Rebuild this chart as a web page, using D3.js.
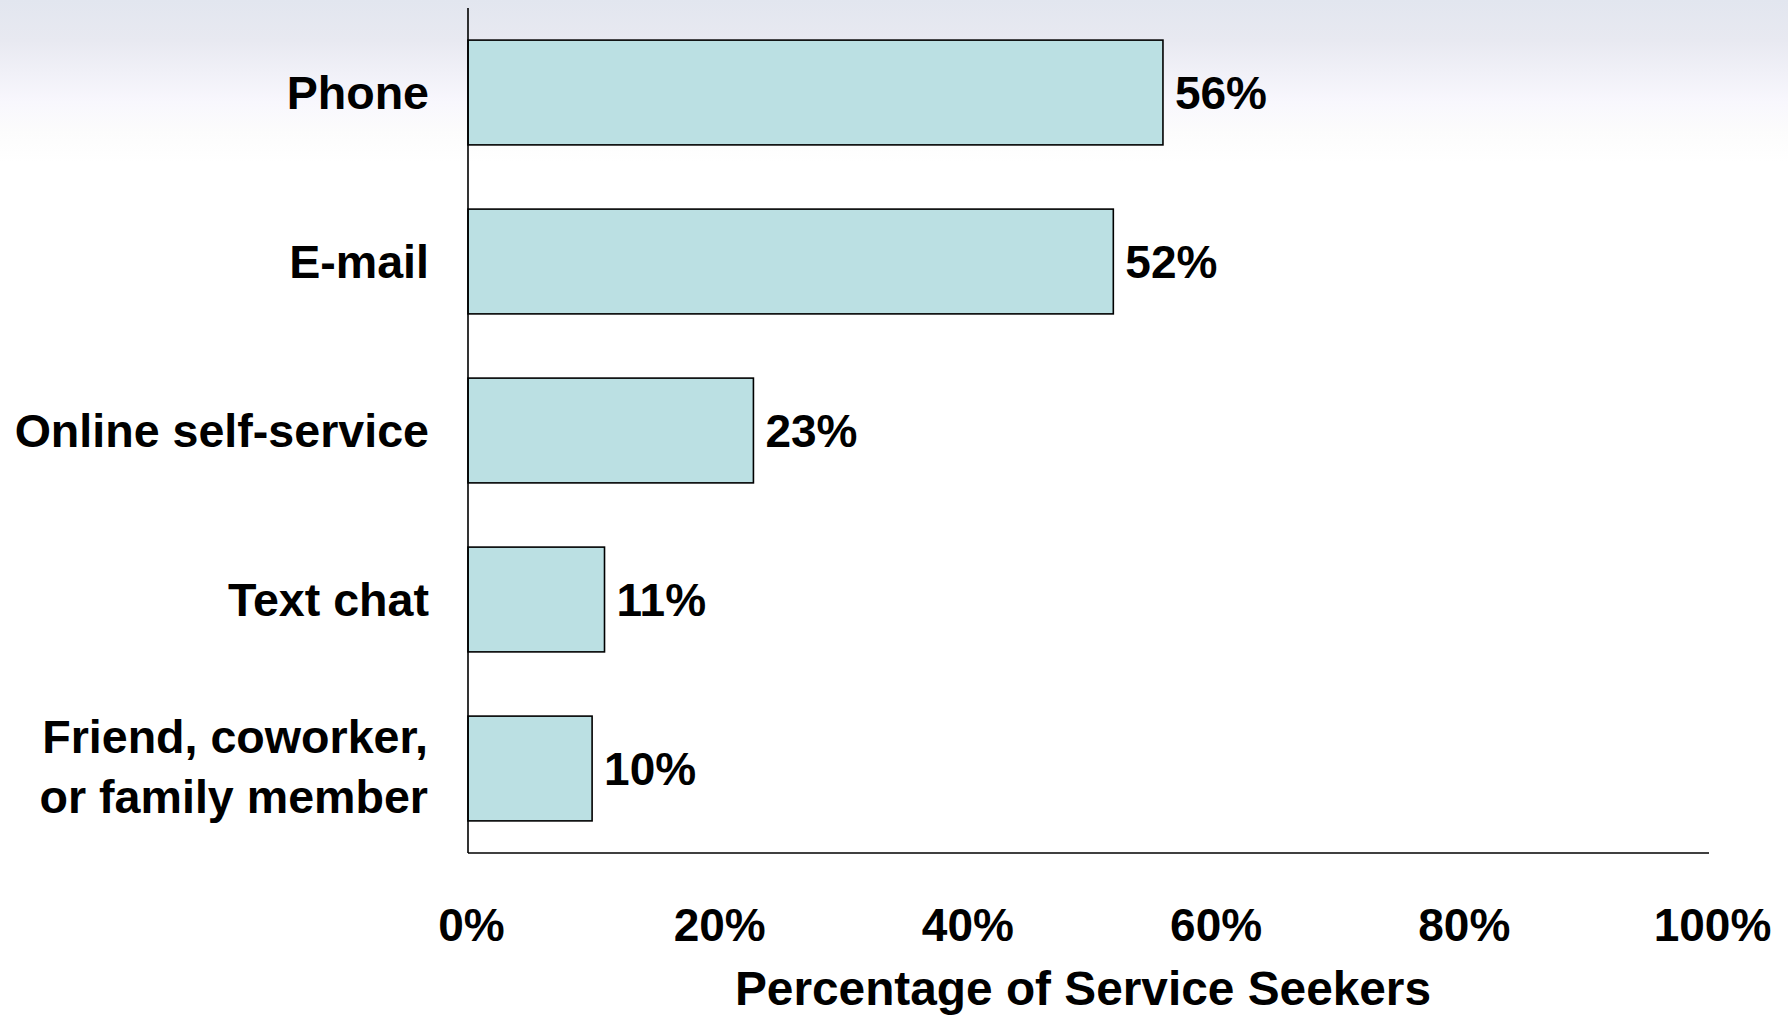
<!DOCTYPE html>
<html>
<head>
<meta charset="utf-8">
<script src="https://cdn.jsdelivr.net/npm/d3@7"></script>
<style>
  html, body { margin: 0; padding: 0; background: #fff; }
  svg { display: block; }
  text { font-family: "Liberation Sans", Arial, sans-serif; font-weight: bold; fill: #000; }
</style>
</head>
<body>
<svg id="chart" width="1788" height="1016"></svg>
<script>
// Contact channels used by service seekers
const categories = [
  ["Phone"],
  ["E-mail"],
  ["Online self-service"],
  ["Text chat"],
  ["Friend, coworker,", "or family member"]
];
const values = [56, 52, 23, 11, 10];
const tickValues = [0, 20, 40, 60, 80, 100];
const axisTitle = "Percentage of Service Seekers";

const svg = d3.select("#chart");
const W = 1788, H = 1016;

// soft header gradient behind the chart
const defs = svg.append("defs");
const grad = defs.append("linearGradient")
  .attr("id", "bg").attr("x1", 0).attr("y1", 0).attr("x2", 0).attr("y2", 1);
grad.append("stop").attr("offset", "0%").attr("stop-color", "#e2e6ef");
grad.append("stop").attr("offset", "4%").attr("stop-color", "#e8e9f1");
grad.append("stop").attr("offset", "10%").attr("stop-color", "#f8f7fd");
grad.append("stop").attr("offset", "13%").attr("stop-color", "#fcfcfc");
grad.append("stop").attr("offset", "16%").attr("stop-color", "#ffffff");
grad.append("stop").attr("offset", "100%").attr("stop-color", "#ffffff");
svg.append("rect").attr("width", W).attr("height", H).attr("fill", "url(#bg)");

const plotLeft = 468, plotRight = 1709, plotTop = 8, plotBottom = 853;
const FS = 46;

const x = d3.scaleLinear().domain([0, 100]).range([plotLeft, plotRight]);
const y = d3.scaleBand()
  .domain(d3.range(categories.length))
  .range([plotTop, plotBottom])
  .paddingInner(0.38)
  .paddingOuter(0.19);

// bars
svg.append("g").selectAll("rect")
  .data(values)
  .join("rect")
  .attr("x", x(0))
  .attr("y", (d, i) => y(i))
  .attr("width", d => x(d) - x(0))
  .attr("height", y.bandwidth())
  .attr("fill", "#bbe0e3")
  .attr("stroke", "#000")
  .attr("stroke-width", 1.6);

// value labels
svg.append("g").selectAll("text")
  .data(values)
  .join("text")
  .attr("x", d => x(d) + 12)
  .attr("y", (d, i) => y(i) + y.bandwidth() / 2)
  .attr("dy", "0.36em")
  .attr("font-size", FS)
  .text(d => d + "%");

// category labels (multi-line where needed)
const lineH = 60;
const catG = svg.append("g");
categories.forEach((lines, i) => {
  const cy = y(i) + y.bandwidth() / 2;
  const t = catG.append("text")
    .attr("text-anchor", "end")
    .attr("font-size", 46.6);
  const n = lines.length;
  lines.forEach((ln, k) => {
    t.append("tspan")
      .attr("x", n > 1 ? 428 : 429)
      .attr("y", cy + (k - (n - 1) / 2) * lineH - (n > 1 ? 2 : 0))
      .attr("dy", "0.36em")
      .text(ln);
  });
});

// x axis with percent tick labels, no tick marks
const xAxis = d3.axisBottom(x)
  .tickValues(tickValues)
  .tickSize(0)
  .tickPadding(0)
  .tickFormat(d => d + "%");
const gx = svg.append("g").attr("transform", `translate(0,${plotBottom})`).call(xAxis);
gx.select(".domain").attr("stroke", "#000").attr("stroke-width", 1.6)
  .attr("d", `M${plotLeft},0H${plotRight}`);
gx.selectAll(".tick text")
  .attr("font-size", FS)
  .attr("font-family", "Liberation Sans, Arial, sans-serif")
  .attr("font-weight", "bold")
  .attr("fill", "#000")
  .attr("dy", null)
  .attr("x", 3)
  .attr("y", 88);

// category axis line
svg.append("line")
  .attr("x1", plotLeft).attr("x2", plotLeft)
  .attr("y1", plotTop).attr("y2", plotBottom)
  .attr("stroke", "#000").attr("stroke-width", 1.6);

// axis title
svg.append("text")
  .attr("x", 1083)
  .attr("y", 1005)
  .attr("text-anchor", "middle")
  .attr("font-size", 47.8)
  .text(axisTitle);
</script>
</body>
</html>
